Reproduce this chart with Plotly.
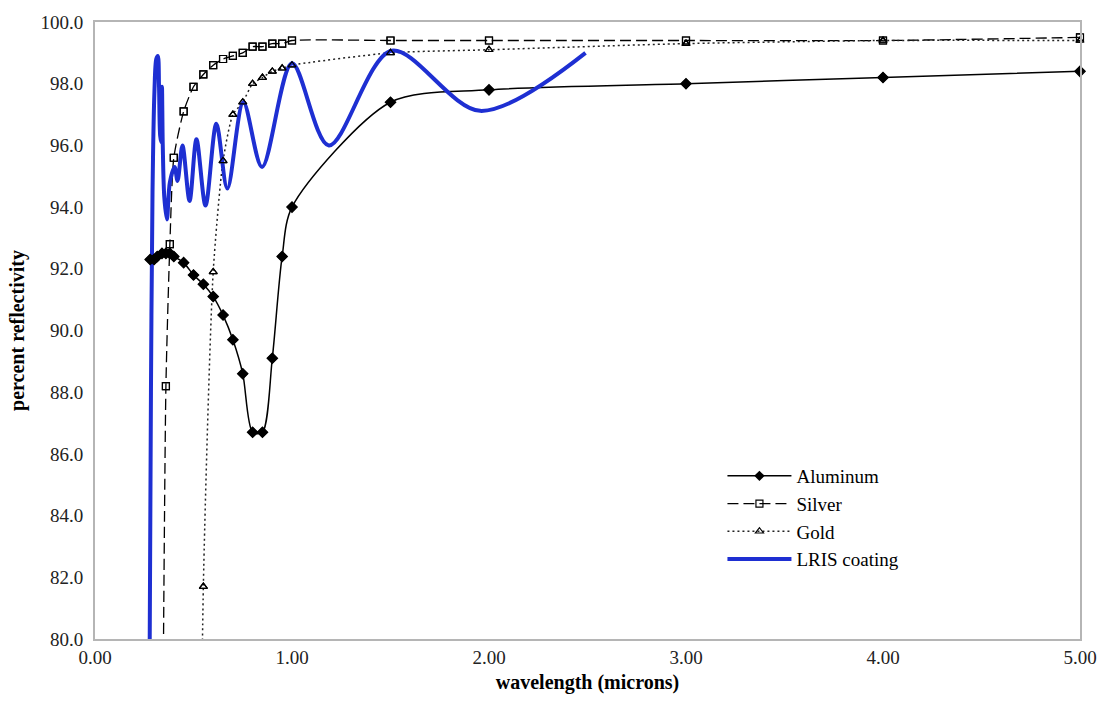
import plotly.graph_objects as go

# ---- data ----
al_x = [0.28, 0.30, 0.316, 0.34, 0.36, 0.38, 0.40, 0.45, 0.50, 0.55, 0.60, 0.65, 0.70, 0.75, 0.80, 0.85, 0.90, 0.95, 1.0, 1.5, 2.0, 3.0, 4.0, 5.0]
al_y = [92.3, 92.3, 92.4, 92.5, 92.5, 92.5, 92.4, 92.2, 91.8, 91.5, 91.1, 90.5, 89.7, 88.6, 86.7, 86.7, 89.1, 92.4, 94.0, 97.4, 97.8, 98.0, 98.2, 98.4]

ag_x = [0.34, 0.36, 0.38, 0.40, 0.45, 0.50, 0.55, 0.60, 0.65, 0.70, 0.75, 0.80, 0.85, 0.90, 0.95, 1.0, 1.5, 2.0, 3.0, 4.0, 5.0]
ag_y = [72.9, 88.2, 92.8, 95.6, 97.1, 97.9, 98.3, 98.6, 98.8, 98.9, 99.0, 99.2, 99.2, 99.3, 99.3, 99.4, 99.4, 99.4, 99.4, 99.4, 99.5]

au_x = [0.50, 0.55, 0.60, 0.65, 0.70, 0.75, 0.80, 0.85, 0.90, 0.95, 1.0, 1.5, 2.0, 3.0, 4.0, 5.0]
au_y = [47.7, 81.7, 91.9, 95.5, 97.0, 97.4, 98.0, 98.2, 98.4, 98.5, 98.6, 99.0, 99.1, 99.3, 99.4, 99.4]

lris_x = [0.277, 0.284, 0.292, 0.302, 0.311, 0.319, 0.325, 0.331, 0.337, 0.340, 0.344, 0.352, 0.365, 0.380, 0.404, 0.419, 0.444, 0.480, 0.515, 0.561, 0.616, 0.672, 0.753, 0.848, 1.000, 1.187, 1.505, 1.955, 2.49]
lris_y = [79.0, 88.0, 94.5, 97.8, 98.8, 98.9, 97.9, 96.3, 96.1, 97.9, 96.0, 94.3, 93.6, 94.8, 95.3, 94.85, 96.0, 94.2, 96.2, 94.05, 96.7, 94.6, 97.4, 95.3, 98.66, 96.0, 99.07, 97.12, 99.0]

x_ticks = [0, 1, 2, 3, 4, 5]
y_ticks = [80, 82, 84, 86, 88, 90, 92, 94, 96, 98, 100]

SERIF = "Liberation Serif, Times New Roman, serif"
BLUE = "#1e2fd2"

fig = go.Figure()

def inrange(xs, ys):
    px, py = [], []
    for a, b in zip(xs, ys):
        if 80 <= b <= 100:
            px.append(a); py.append(b)
    return px, py

# Aluminum
fig.add_trace(go.Scatter(x=al_x, y=al_y, name="Aluminum", mode="lines+markers",
                         line=dict(color="black", width=1.5, shape="spline", smoothing=0.8),
                         marker=dict(symbol="diamond", size=8, color="black")))
# Silver
fig.add_trace(go.Scatter(x=ag_x, y=ag_y, name="Silver", mode="lines+markers",
                         line=dict(color="black", width=1.3, dash="11px,5px", shape="spline", smoothing=0.6),
                         marker=dict(symbol="square-open", size=7, color="black", line=dict(width=1.2))))
# Gold
fig.add_trace(go.Scatter(x=au_x, y=au_y, name="Gold", mode="lines+markers",
                         line=dict(color="#222", width=1.5, dash="2px,3px", shape="spline", smoothing=0.6),
                         marker=dict(symbol="triangle-up-open", size=7, color="black", line=dict(width=1.2))))
# LRIS coating
fig.add_trace(go.Scatter(x=lris_x, y=lris_y, name="LRIS coating", mode="lines",
                         line=dict(color=BLUE, width=4, shape="spline", smoothing=0.9)))

# unclipped marker copies so edge markers are fully visible
for xs, ys, sym, sz in [(al_x, al_y, "diamond", 8), (ag_x, ag_y, "square-open", 7), (au_x, au_y, "triangle-up-open", 7)]:
    mx, my = inrange(xs, ys)
    fig.add_trace(go.Scatter(x=mx, y=my, mode="markers", showlegend=False, cliponaxis=False, hoverinfo="skip",
                             marker=dict(symbol=sym, size=sz, color="black", line=dict(width=1.2, color="black"))))

fig.update_layout(
    width=1109, height=702,
    margin=dict(l=95, r=21, t=16, b=61),
    paper_bgcolor="white", plot_bgcolor="white",
    showlegend=True,
    legend=dict(x=0.637, y=0.295, xanchor="left", yanchor="top",
                font=dict(family=SERIF, size=19, color="black"),
                bgcolor="rgba(255,255,255,0)", itemwidth=64, tracegroupgap=0),
    font=dict(family=SERIF, color="#222"),
)
fig.update_xaxes(range=[0, 5], tickvals=x_ticks, ticktext=[f"{v:.2f}" for v in x_ticks],
                 showgrid=False, zeroline=False, showline=True, mirror=True,
                 linecolor="#b5b5b5", linewidth=2, ticks="",
                 tickfont=dict(family=SERIF, size=19, color="#222"),
                 title=dict(text="<b>wavelength (microns)</b>", font=dict(family=SERIF, size=20, color="black"), standoff=8))
fig.update_yaxes(range=[80, 100], tickvals=y_ticks, ticktext=[f"{v:.1f}" for v in y_ticks],
                 showgrid=False, zeroline=False, showline=True, mirror=True,
                 linecolor="#b5b5b5", linewidth=2, ticks="", ticklabelstandoff=6,
                 tickfont=dict(family=SERIF, size=19, color="#222"),
                 title=dict(text="<b>percent reflectivity</b>", font=dict(family=SERIF, size=20, color="black"), standoff=10))

fig.write_html("out.html")
